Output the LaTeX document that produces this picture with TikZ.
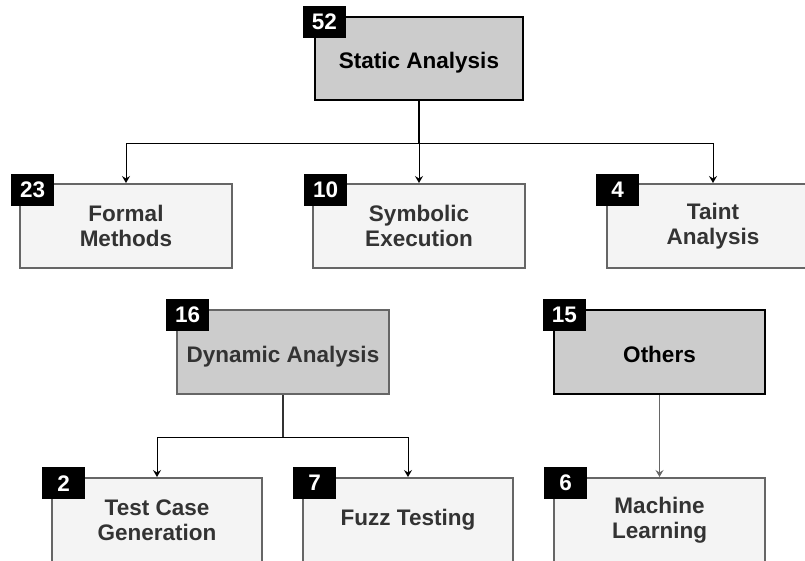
\documentclass[tikz,border=0pt]{standalone}
\usepackage{fontspec}
\setmainfont{Liberation Sans}
\usetikzlibrary{arrows.meta,calc}
\definecolor{boxgray}{HTML}{CCCCCC}
\definecolor{subfill}{HTML}{F4F4F4}
\definecolor{subborder}{HTML}{666666}
\definecolor{subtext}{HTML}{333333}
\tikzset{
  base/.style={rectangle, inner sep=0pt, align=center,
    font=\fontsize{22.5pt}{25.5pt}\selectfont\bfseries},
  lowtext/.style={text height=22pt, text depth=2pt},
  topbox/.style={base, lowtext, fill=boxgray, draw=black, line width=2.5pt, text=black,
    minimum width=208pt, minimum height=83pt},
  midbox/.style={base, lowtext, fill=boxgray, draw=subborder, line width=2pt, text=subtext,
    minimum width=212pt, minimum height=84pt},
  subbox/.style={base, fill=subfill, draw=subborder, line width=2pt, text=subtext,
    minimum width=212pt, minimum height=84pt},
  badge/.style={base, fill=black, text=white, anchor=north west,
    minimum width=43pt, minimum height=32pt},
  arr/.style={-{Stealth[length=7pt,width=8pt,inset=2.5pt]}, line width=1pt, draw=black},
  stemline/.style={line width=2pt, draw=black},
}
\begin{document}
\begin{tikzpicture}[x=1pt,y=-1pt]
\useasboundingbox (0,0) rectangle (805,560);
% boxes
\node[topbox] (static) at (419,58.5) {Static Analysis};
\node[subbox] (formal) at (126,226) {Formal\\Methods};
\node[subbox] (symb) at (419,226) {Symbolic\\Execution};
\node[subbox] (taint) at (713,226) {Taint\\Analysis};
\node[midbox] (dyn) at (283,352) {Dynamic Analysis};
\node[topbox, minimum width=211pt, minimum height=84pt] (others) at (659.5,352) {Others};
\node[subbox, minimum width=210pt] (tcg) at (157,520) {Test Case\\Generation};
\node[subbox, minimum width=210pt] (fuzz) at (408,520) {Fuzz Testing};
\node[subbox, minimum width=211pt] (ml) at (659.5,520) {Machine\\Learning};
% badges
\node[badge] (n52) at ([shift={(-11pt,10pt)}]static.north west) {52};
\node[badge] (n23) at ([shift={(-8pt,9pt)}]formal.north west) {23};
\node[badge] (n10) at ([shift={(-8pt,9pt)}]symb.north west) {10};
\node[badge] (n4) at ([shift={(-10pt,9pt)}]taint.north west) {4};
\node[badge] (n16) at ([shift={(-10pt,10pt)}]dyn.north west) {16};
\node[badge] (n15) at ([shift={(-10pt,10pt)}]others.north west) {15};
\node[badge] (n2) at ([shift={(-9pt,10pt)}]tcg.north west) {2};
\node[badge] (n7) at ([shift={(-9pt,10pt)}]fuzz.north west) {7};
\node[badge] (n6) at ([shift={(-9pt,10pt)}]ml.north west) {6};
% connectors
\coordinate (sj) at (419,143);
\draw[stemline] (static.south) -- (sj);
\draw[arr] (sj) -| (formal.north);
\draw[arr] (sj) -- (symb.north);
\draw[arr] (sj) -| (taint.north);
\coordinate (dj) at (283,437);
\draw[stemline, draw=subtext, line width=1.5pt] (dyn.south) -- (dj);
\draw[arr] (dj) -| (tcg.north);
\draw[arr] (dj) -| (fuzz.north);
\draw[arr, draw=subborder, line width=1.5pt] (others.south) -- (ml.north);
\end{tikzpicture}
\end{document}
